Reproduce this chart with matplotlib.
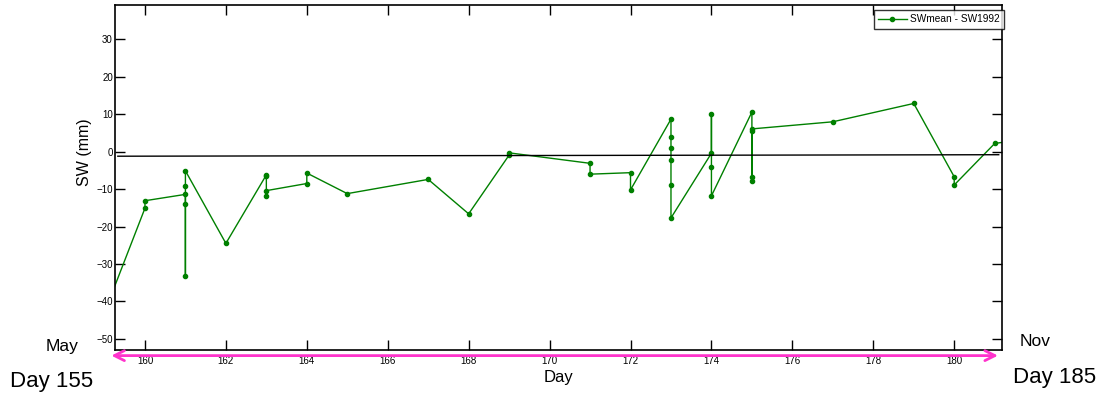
import numpy as np
import matplotlib
matplotlib.use("Agg")
import matplotlib.pyplot as plt

plt.rcParams['font.family'] = ['Liberation Sans', 'DejaVu Sans']

# SWmean - SW1992 difference by day (several readings on some days)
days = [159, 160, 160, 161, 161, 161, 161, 161, 162,
        163, 163, 163, 163, 164, 164, 165, 167, 168, 169, 169,
        171, 171, 172, 172, 173, 173, 173, 173, 173, 173,
        174, 174, 174, 174, 175, 175, 175, 175, 175,
        177, 179, 180, 180, 181, 182]
sw_diff = [-43.0, -15.1, -13.1, -11.4, -33.2, -14.1, -9.1, -5.1, -24.5,
           -6.2, -6.5, -11.9, -10.4, -8.5, -5.7, -11.2, -7.4, -16.6, -0.9, -0.3,
           -3.1, -6.0, -5.6, -10.2, 8.7, 4.0, 0.9, -2.2, -8.9, -17.7,
           -0.4, 10.0, -4.0, -11.8, 10.6, -6.7, -7.8, 5.6, 6.1,
           8.0, 12.9, -6.7, -8.9, 2.2, 3.8]

# mean reference line
ref_days = [159.33, 181.1]
ref_vals = [-1.2, -0.8]

x_ticks = list(range(160, 181, 2))
y_ticks = list(range(-50, 31, 10))

fig = plt.figure(figsize=(11.08, 3.98), dpi=100)
ax = fig.add_axes([0.1038, 0.1206, 0.8005, 0.8676])

ax.plot(days, sw_diff, color='#008000', lw=1.0, marker='.', ms=6,
        label='SWmean - SW1992')
ax.plot(ref_days, ref_vals, color='black', lw=1.0)

ax.set_xlim(159.26, 181.18)
ax.set_ylim(-53.0, 39.3)
ax.set_xticks(x_ticks)
ax.set_yticks(y_ticks)
ax.tick_params(direction='in', top=True, right=True, length=7, width=1,
               labelsize=7)
ax.tick_params(axis='x', pad=4)
ax.tick_params(axis='y', pad=1.5)
for s in ax.spines.values():
    s.set_linewidth(1.2)

ax.set_ylabel('SW (mm)', fontsize=11.5)
ax.yaxis.set_label_coords(-0.026, 0.572)
ax.set_xlabel('Day', fontsize=12, labelpad=3)

leg = ax.legend(loc='upper right', bbox_to_anchor=(1.002, 0.985),
                fontsize=7.3, frameon=True, fancybox=False,
                borderaxespad=0, handlelength=2.8, borderpad=0.45,
                handletextpad=0.3)
leg.get_frame().set_edgecolor('black')
leg.get_frame().set_linewidth(1.0)

# magenta season arrow below the axis
ax.annotate('', xy=(181.15, -54.5), xytext=(159.1, -54.5),
            xycoords='data', textcoords='data', annotation_clip=False,
            arrowprops=dict(arrowstyle='<->', color='#ff33cc', lw=2,
                            mutation_scale=18))

fig.text(62 / 1108, 1 - 347 / 398, 'May', fontsize=12.5, ha='center', va='center')
fig.text(52 / 1108, 1 - 381 / 398, 'Day 155', fontsize=16, ha='center', va='center')
fig.text(1035 / 1108, 1 - 341 / 398, 'Nov', fontsize=12.5, ha='center', va='center')
fig.text(1055 / 1108, 1 - 378 / 398, 'Day 185', fontsize=16, ha='center', va='center')

fig.savefig('out.png', dpi=100)
